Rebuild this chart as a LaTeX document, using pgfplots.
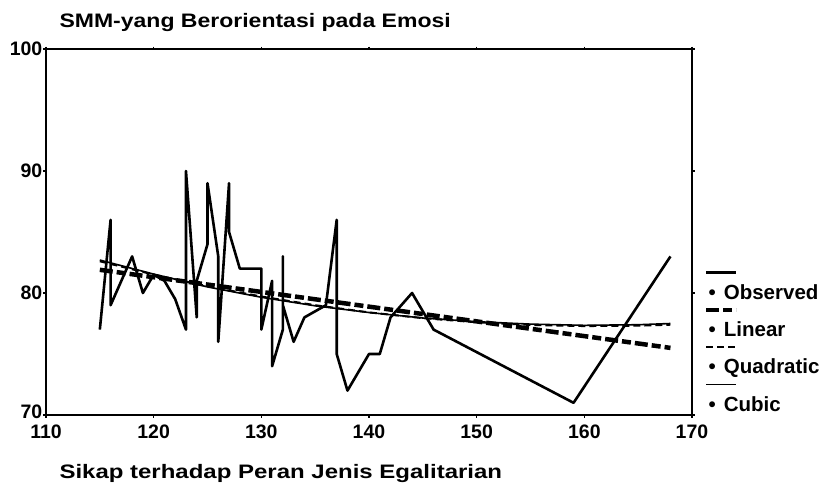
\documentclass[border=0pt]{standalone}
\usepackage{fontspec}
\setmainfont{Liberation Sans}
\newfontfamily\widefont{Liberation Sans}[FakeStretch=1.23]
\newfontfamily\titlefont{Liberation Sans}[FakeStretch=1.18]
\usepackage{pgfplots}
\pgfplotsset{compat=1.18}
\begin{document}
\begin{tikzpicture}
\useasboundingbox (-46pt,-76pt) rectangle (779pt,415pt);
\begin{axis}[
  scale only axis, width=646pt, height=366pt,
  xmin=110, xmax=170, ymin=70, ymax=100,
  xtick={110,120,...,170}, ytick={70,80,90,100},
  yticklabels={\raisebox{6pt}{70},80,90,100},
  axis line style={line width=1.8pt},
  tick style={line width=1.2pt, black},
  tick align=outside, major tick length=2.5pt,
  /pgf/number format/assume math mode=true,
  ticklabel style={font=\fontsize{19.5}{19.5}\selectfont\bfseries},
  yticklabel style={inner sep=0pt, xshift=-1pt},
  xticklabel style={inner sep=0pt, yshift=-7pt},
  title={SMM-yang Berorientasi pada Emosi},
  title style={at={(0,1)}, anchor=base west, xshift=10pt, yshift=16pt,
    font=\titlefont\bfseries\fontsize{19.5}{19.5}\selectfont},
  xlabel={Sikap terhadap Peran Jenis Egalitarian},
  xlabel style={at={(0,0)}, anchor=base west, xshift=10pt, yshift=-63pt,
    font=\widefont\bfseries\fontsize{19.5}{19.5}\selectfont},
  legend style={at={(1,0)}, anchor=south west, draw=none, fill=none,
    xshift=10pt, yshift=0pt, inner sep=0pt, row sep=17pt,
    font=\fontsize{20.5}{20.5}\selectfont\bfseries},
  legend cell align=left,
  legend image code/.code={\draw[#1,overlay] (2pt,20pt) -- (32pt,20pt); \path (0pt,0pt);},
]
\addplot[black, line width=2.6pt, line join=round] coordinates {
(115,77) (116,86) (116,79) (118,83) (119,80) (120,81.5) (121,81) (122,79.5)
(123,77) (123,90) (124,78) (124,81) (125,84) (125,89) (126,83) (126,76)
(127,89) (127,85) (128,82) (130,82) (130,77) (131,81) (131,74) (132,77)
(132,83) (132,79) (133,76) (134,78) (136,79) (137,86) (137,75) (138,72)
(140,75) (141,75) (142,78) (144,80) (146,77) (159,71) (168,83)
};
\addlegendentry{\textbullet\hspace{8pt}Observed}
\addplot[black, line width=4.5pt, dash pattern=on 13pt off 4pt on 9pt off 4pt] coordinates {
(115,81.9) (168,75.5)
};
\addlegendentry{\textbullet\hspace{8pt}Linear}
\addplot[black, line width=2pt, dash pattern=on 7pt off 4pt] coordinates {
(115,82.6) (120,81.51) (125,80.55) (130,79.71) (135,79.00) (140,78.41)
(145,77.94) (150,77.60) (155,77.38) (160,77.29) (165,77.32) (168,77.40)
};
\addlegendentry{\textbullet\hspace{8pt}Quadratic}
\addplot[black, line width=1.6pt] coordinates {
(115,82.7) (120,81.55) (125,80.5) (130,79.65) (135,78.95) (140,78.4)
(145,77.95) (150,77.65) (155,77.45) (160,77.35) (165,77.4) (168,77.5)
};
\addlegendentry{\textbullet\hspace{8pt}Cubic}
\end{axis}
\end{tikzpicture}
\end{document}
